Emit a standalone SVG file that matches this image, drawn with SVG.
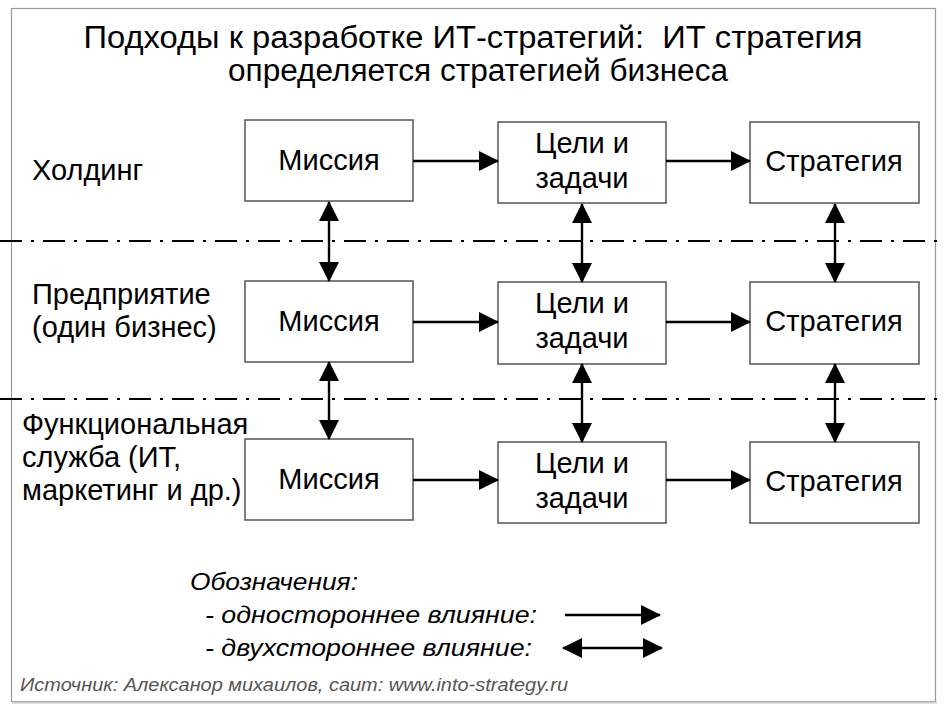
<svg xmlns="http://www.w3.org/2000/svg" width="946" height="710" viewBox="0 0 946 710">
<style>
.box{fill:#fff;stroke:#555;stroke-width:1.5}
.t{font-family:"Liberation Sans",Arial,sans-serif;font-size:29px;fill:#000}
.c{text-anchor:middle}
.ttl{font-family:"Liberation Sans",Arial,sans-serif;font-size:31px;fill:#000;text-anchor:middle}
.lg{font-family:"Liberation Sans",Arial,sans-serif;font-size:24px;font-style:italic;fill:#000}
.src{font-family:"Liberation Sans",Arial,sans-serif;font-size:18px;font-style:italic;fill:#555}
.arr{stroke:#000;stroke-width:2.4;fill:none}
.sep{stroke:#000;stroke-width:2;stroke-dasharray:22 9 3 9;fill:none}
</style>
<defs>
<marker id="ah" viewBox="0 0 20 20" refX="19" refY="10" markerWidth="20" markerHeight="20" orient="auto-start-reverse" markerUnits="userSpaceOnUse">
<path d="M0,0 L20,10 L0,20 z" fill="#000"/>
</marker>
</defs>
<rect x="0" y="0" width="946" height="710" fill="#fff"/>
<g id="frame">
<rect x="11.5" y="8.5" width="924" height="693" fill="none" stroke="#999" stroke-width="1.2"/>
<line x1="12" y1="702.5" x2="937" y2="702.5" stroke="#c8c8c8" stroke-width="2"/>
</g>
<g id="title">
<text class="ttl" x="473" y="48" textLength="779" lengthAdjust="spacingAndGlyphs">Подходы к разработке ИТ-стратегий: &#160;ИТ стратегия</text>
<text class="ttl" x="478" y="81" textLength="500" lengthAdjust="spacingAndGlyphs">определяется стратегией бизнеса</text>
</g>
<g id="separators">
<line class="sep" x1="0" y1="241" x2="946" y2="241"/>
<line class="sep" x1="0" y1="399" x2="946" y2="399"/>
</g>
<g id="row-labels">
<text class="t" x="32" y="180">Холдинг</text>
<text class="t" x="32" y="304">Предприятие</text>
<text class="t" x="32" y="337">(один бизнес)</text>
<text class="t" x="22" y="434">Функциональная</text>
<text class="t" x="22" y="467">служба (ИТ,</text>
<text class="t" x="22" y="500">маркетинг и др.)</text>
</g>
<g id="n-mission-1"><rect class="box" x="245" y="120" width="168" height="81"/><text class="t c" x="329" y="170">Миссия</text></g>
<g id="n-goals-1"><rect class="box" x="498" y="122" width="168" height="81"/><text class="t c" x="582" y="153">Цели и</text><text class="t c" x="582" y="188">задачи</text></g>
<g id="n-strategy-1"><rect class="box" x="750" y="122" width="169" height="81"/><text class="t c" x="834" y="171">Стратегия</text></g>
<g id="n-mission-2"><rect class="box" x="245" y="281" width="168" height="81"/><text class="t c" x="329" y="331">Миссия</text></g>
<g id="n-goals-2"><rect class="box" x="498" y="282" width="168" height="82"/><text class="t c" x="582" y="313">Цели и</text><text class="t c" x="582" y="348">задачи</text></g>
<g id="n-strategy-2"><rect class="box" x="750" y="282" width="169" height="82"/><text class="t c" x="834" y="331">Стратегия</text></g>
<g id="n-mission-3"><rect class="box" x="245" y="439" width="168" height="81"/><text class="t c" x="329" y="489">Миссия</text></g>
<g id="n-goals-3"><rect class="box" x="498" y="442" width="168" height="81"/><text class="t c" x="582" y="473">Цели и</text><text class="t c" x="582" y="508">задачи</text></g>
<g id="n-strategy-3"><rect class="box" x="750" y="442" width="169" height="81"/><text class="t c" x="834" y="491">Стратегия</text></g>
<g id="connectors">
<line class="arr" x1="413" y1="161" x2="498" y2="161" marker-end="url(#ah)"/>
<line class="arr" x1="666" y1="161" x2="750" y2="161" marker-end="url(#ah)"/>
<line class="arr" x1="413" y1="322" x2="498" y2="322" marker-end="url(#ah)"/>
<line class="arr" x1="666" y1="322" x2="750" y2="322" marker-end="url(#ah)"/>
<line class="arr" x1="413" y1="480" x2="498" y2="480" marker-end="url(#ah)"/>
<line class="arr" x1="666" y1="480" x2="750" y2="480" marker-end="url(#ah)"/>
<line class="arr" x1="329" y1="202" x2="329" y2="281" marker-start="url(#ah)" marker-end="url(#ah)"/>
<line class="arr" x1="582" y1="204" x2="582" y2="282" marker-start="url(#ah)" marker-end="url(#ah)"/>
<line class="arr" x1="835" y1="204" x2="835" y2="282" marker-start="url(#ah)" marker-end="url(#ah)"/>
<line class="arr" x1="329" y1="362" x2="329" y2="439" marker-start="url(#ah)" marker-end="url(#ah)"/>
<line class="arr" x1="582" y1="364" x2="582" y2="442" marker-start="url(#ah)" marker-end="url(#ah)"/>
<line class="arr" x1="835" y1="364" x2="835" y2="442" marker-start="url(#ah)" marker-end="url(#ah)"/>
</g>
<g id="legend">
<text class="lg" x="190" y="590" textLength="168" lengthAdjust="spacingAndGlyphs">Обозначения:</text>
<text class="lg" x="205" y="623" textLength="332" lengthAdjust="spacingAndGlyphs">- одностороннее влияние:</text>
<text class="lg" x="205" y="656" textLength="327" lengthAdjust="spacingAndGlyphs">- двухстороннее влияние:</text>
<line class="arr" x1="565" y1="615" x2="660" y2="615" marker-end="url(#ah)"/>
<line class="arr" x1="563" y1="648" x2="662" y2="648" marker-start="url(#ah)" marker-end="url(#ah)"/>
</g>
<text class="src" x="20" y="691" textLength="548" lengthAdjust="spacingAndGlyphs">Источник: Алексанор михаилов, саит: www.into-strategy.ru</text>
</svg>
